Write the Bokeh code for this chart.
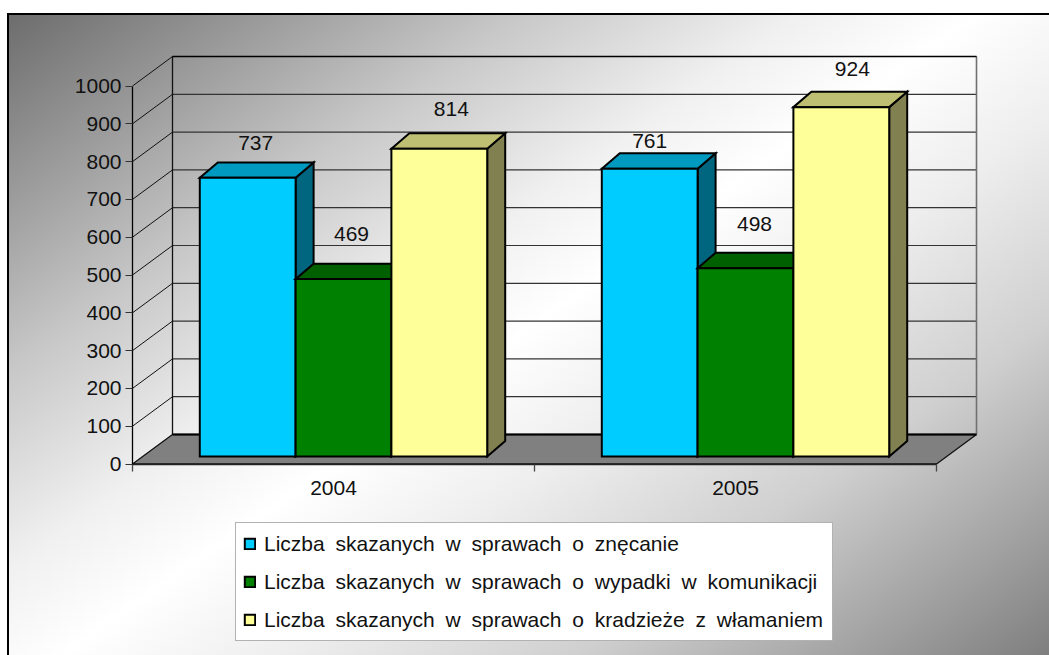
from bokeh.core.properties import value
from bokeh.embed import file_html
from bokeh.models import ColumnDataSource, FixedTicker, Legend, LegendItem, Range1d
from bokeh.plotting import figure
from bokeh.resources import INLINE

# ---- data ----
years = ["2004", "2005"]
series_names = [
    "Liczba skazanych w sprawach o znęcanie",
    "Liczba skazanych w sprawach o wypadki w komunikacji",
    "Liczba skazanych w sprawach o kradzieże z włamaniem",
]
znecanie = [737, 761]
wypadki = [469, 498]
kradzieze = [814, 924]
y_ticks = [0, 100, 200, 300, 400, 500, 600, 700, 800, 900, 1000]

# ---- styling ----
front_colors = ["#00CCFF", "#008000", "#FFFF99"]
top_colors = ["#0099BF", "#006000", "#BFBF73"]
side_colors = ["#006680", "#004000", "#808050"]
FONT = "Liberation Sans"
FS = "21px"
INK = "#111111"

# pixels per data unit, and 3-D depths in pixels
UX, UY = 402.0, 0.378
FLOOR_DX, FLOOR_DY = 40 / UX, 29.5 / UY
BAR_DX, BAR_DY = 18 / UX, 15.4 / UY
INSET_DX, INSET_DY = 10 / UX, 7.6 / UY
BAR_W = 95.8 / UX
X_END = 2.0

W, H = 1049, 655
ORIGIN_X, ORIGIN_Y = 132.0, 463.5  # pixel position of the axes' origin

bg = (
    "linear-gradient(#000,#000) 7px 13px/100% 2px no-repeat,"
    "linear-gradient(#000,#000) 7px 13px/2px 100% no-repeat,"
    "linear-gradient(145deg,#6c6c6c 0%,#9a9a9a 13%,#c8c8c8 26%,#f0f0f0 40%,#ffffff 49%,"
    "#eeeeee 60%,#cfcfcf 75%,#a0a0a0 89%,#7a7a7a 100%) 7px 13px/100% 100% no-repeat"
)

p = figure(
    width=W, height=H, output_backend="svg", toolbar_location=None,
    min_border=0,
    x_range=Range1d(-ORIGIN_X / UX, (W - ORIGIN_X) / UX),
    y_range=Range1d(-(H - ORIGIN_Y) / UY, ORIGIN_Y / UY),
    border_fill_color=None, background_fill_color=None, outline_line_color=None,
    styles={"background": bg, "word-spacing": "5px"},
)
p.xgrid.visible = False
p.ygrid.visible = False

# floor
p.patch(
    [0, FLOOR_DX, X_END + FLOOR_DX, X_END],
    [0, FLOOR_DY, FLOOR_DY, 0],
    fill_color="#808080", line_color="#111111", line_width=1.3,
)

# walls: grid lines on the back wall and on the left side wall
top = y_ticks[-1]
p.multi_line(
    [[FLOOR_DX, X_END + FLOOR_DX] for _ in y_ticks[1:]],
    [[v + FLOOR_DY, v + FLOOR_DY] for v in y_ticks[1:]],
    line_color="#333333", line_width=1.2,
)
p.multi_line(
    [[0, FLOOR_DX] for _ in y_ticks[1:]],
    [[v, v + FLOOR_DY] for v in y_ticks[1:]],
    line_color="#111111", line_width=1,
)
p.line([FLOOR_DX, FLOOR_DX], [FLOOR_DY, top + FLOOR_DY], line_color="#111111", line_width=1.3)
p.line([X_END + FLOOR_DX, X_END + FLOOR_DX], [FLOOR_DY, top + FLOOR_DY], line_color="#707070", line_width=1.6)
p.line([FLOOR_DX, X_END + FLOOR_DX], [top + FLOOR_DY, top + FLOOR_DY], line_color="#000000", line_width=1.3)
p.line([FLOOR_DX, X_END + FLOOR_DX], [FLOOR_DY, FLOOR_DY], line_color="#000000", line_width=2)

# bars, back-to-front and left-to-right
all_series = [znecanie, wypadki, kradzieze]
front_renderers = [None, None, None]
lbl_x, lbl_y, lbl_t, lbl_dx, lbl_dy = [], [], [], [], []
nudge_x = [[8, 8, 12], [0, 9, 11]]
nudge_y = [[35, 45, 40], [28, 44, 38]]
for g in range(len(years)):
    center = g + 0.5
    for s, vals in enumerate(all_series):
        v = vals[g]
        x0 = center + (s - 1.5) * BAR_W + INSET_DX
        x1 = x0 + BAR_W
        y0 = INSET_DY
        y1 = y0 + v
        p.patch([x1, x1 + BAR_DX, x1 + BAR_DX, x1], [y0, y0 + BAR_DY, y1 + BAR_DY, y1],
                fill_color=side_colors[s], line_color="black", line_width=2, line_join="miter")
        p.patch([x0, x0 + BAR_DX, x1 + BAR_DX, x1], [y1, y1 + BAR_DY, y1 + BAR_DY, y1],
                fill_color=top_colors[s], line_color="black", line_width=2, line_join="miter")
        r = p.quad(left=x0, right=x1, bottom=y0, top=y1,
                   fill_color=front_colors[s], line_color="black", line_width=2, line_join="miter")
        front_renderers[s] = r
        lbl_x.append((x0 + x1) / 2)
        lbl_y.append(y1)
        lbl_t.append(str(v))
        lbl_dx.append(nudge_x[g][s])
        lbl_dy.append(-nudge_y[g][s])

p.text(
    x="x", y="y", text="t", x_offset="dx", y_offset="dy",
    source=ColumnDataSource(dict(x=lbl_x, y=lbl_y, t=lbl_t, dx=lbl_dx, dy=lbl_dy)),
    text_font=value(FONT), text_font_size=value(FS), text_color=INK,
    text_align="center", text_baseline="middle",
)

# axes
ya = p.yaxis[0]
ya.fixed_location = 0
ya.ticker = FixedTicker(ticks=y_ticks)
ya.bounds = (0, top)
ya.axis_line_color = "#000000"
ya.axis_line_width = 1.3
ya.major_tick_in = 0
ya.major_tick_out = 7
ya.major_tick_line_color = "#333333"
ya.major_tick_line_width = 1
ya.minor_tick_out = 0
ya.minor_tick_in = 0
ya.major_label_standoff = 4
ya.major_label_text_font = FONT
ya.major_label_text_font_size = FS
ya.major_label_text_color = INK

xa = p.xaxis[0]
xa.fixed_location = 0
xa.ticker = FixedTicker(ticks=[0.5, 1.5], minor_ticks=[0, 1, 2])
xa.bounds = (0, X_END)
xa.major_label_overrides = {0.5: years[0], 1.5: years[1]}
xa.axis_line_color = "#222222"
xa.axis_line_width = 1.3
xa.major_tick_in = 0
xa.major_tick_out = 0
xa.minor_tick_in = 0
xa.minor_tick_out = 7
xa.minor_tick_line_color = "#444444"
xa.minor_tick_line_width = 1.3
xa.major_label_standoff = 10
xa.major_label_text_font = FONT
xa.major_label_text_font_size = FS
xa.major_label_text_color = INK

legend = Legend(
    items=[LegendItem(label=value(n), renderers=[r]) for n, r in zip(series_names, front_renderers)],
    location=(235, 14), margin=0, padding=7, spacing=11,
    glyph_width=13, glyph_height=13, label_standoff=8, label_width=561, label_height=27,
    label_text_font=FONT, label_text_font_size=FS, label_text_color=INK,
    border_line_color="#666666", border_line_width=1.3,
    background_fill_color="white", background_fill_alpha=1,
    orientation="vertical",
)
p.add_layout(legend, "center")

open("out.html", "w").write(file_html(p, INLINE))
